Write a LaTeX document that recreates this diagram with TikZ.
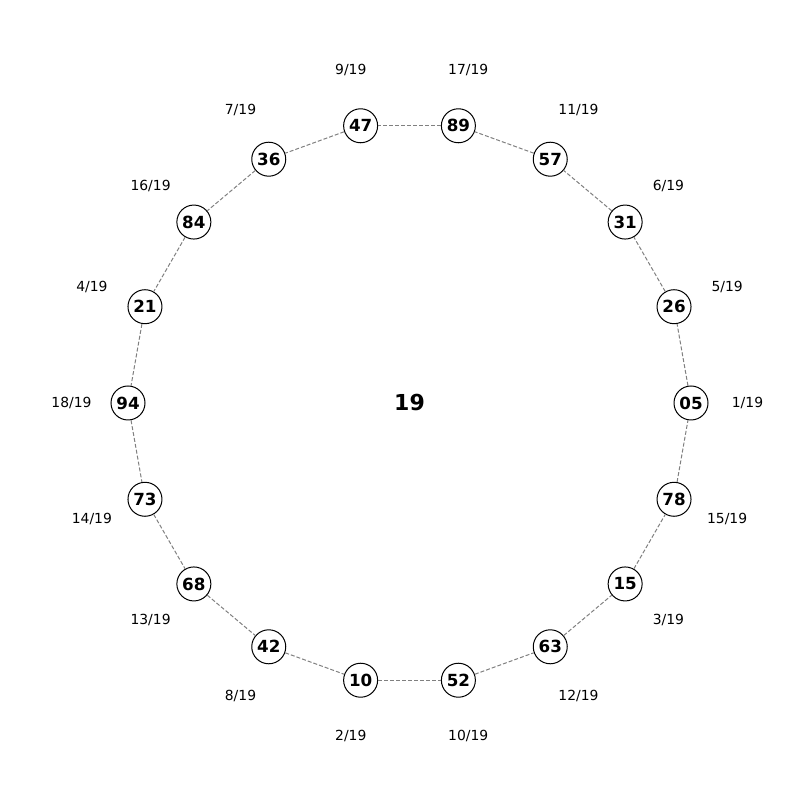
\documentclass[tikz,border=0pt]{standalone}
\usepackage{fontspec}
\setmainfont{DejaVu Sans}
\usetikzlibrary{calc}
\begin{document}
\begin{tikzpicture}[x=1pt,y=1pt,
  num/.style={circle,draw=black,line width=1pt,fill=white,minimum size=34pt,inner sep=0pt,font=\fontsize{16.7}{18}\selectfont\bfseries},
  frac/.style={font=\fontsize{13.9}{16}\selectfont},
  link/.style={draw=gray,line width=1pt,dash pattern=on 4pt off 2pt}]
\useasboundingbox (0,0) rectangle (800,800);
\coordinate (c) at (409.5,397);
\node[font=\fontsize{22}{24}\selectfont\bfseries] (ctr) at (c) {19};
\foreach \n/\f [count=\i from 0] in {05/1,26/5,31/6,57/11,89/17,47/9,36/7,84/16,21/4,94/18,73/14,68/13,42/8,10/2,52/10,63/12,15/3,78/15}{
  \node[frac] (f\i) at ($(c)+(\i*20:338)$) {\f/19};
}
\foreach \n [count=\i from 0] in {05,26,31,57,89,47,36,84,21,94,73,68,42,10,52,63,15,78}{
  \node[num] (n\i) at ($(c)+(\i*20:281.5)$) {\n};
}
\foreach \i in {0,...,17}{
  \pgfmathtruncatemacro{\j}{mod(\i+1,18)}
  \path[link] (n\i) -- (n\j);
}
\end{tikzpicture}
\end{document}
